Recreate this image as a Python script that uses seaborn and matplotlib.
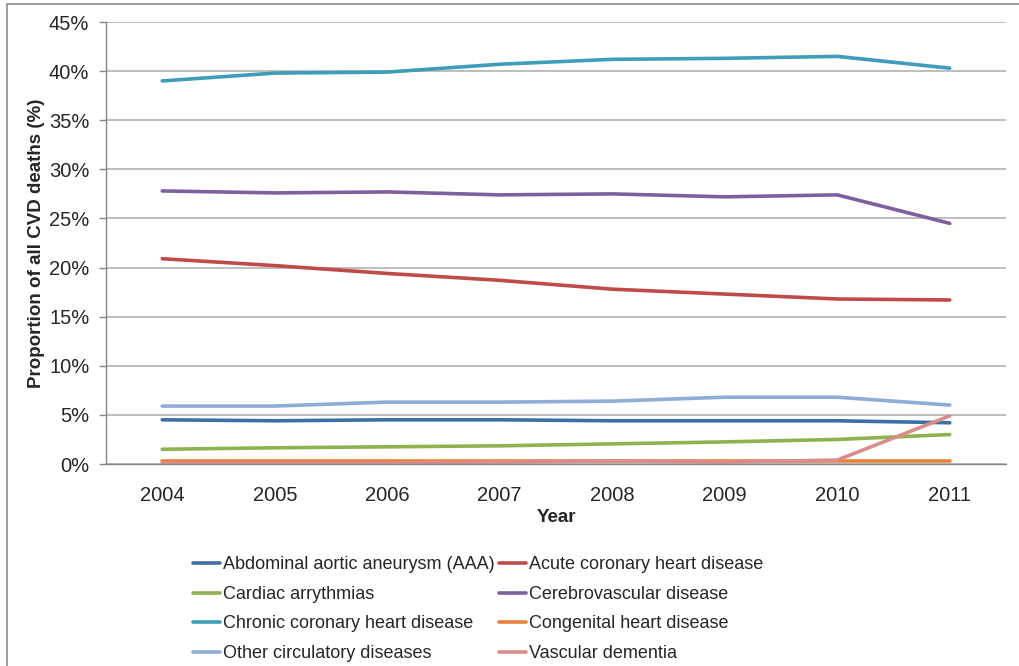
import matplotlib
matplotlib.use("Agg")
import matplotlib.pyplot as plt
import seaborn as sns
import pandas as pd
from matplotlib.patches import Rectangle
from matplotlib.ticker import FixedLocator
from matplotlib.lines import Line2D

years = ["2004", "2005", "2006", "2007", "2008", "2009", "2010", "2011"]
aaa = [4.5, 4.4, 4.5, 4.5, 4.4, 4.4, 4.4, 4.2]
acute = [20.9, 20.2, 19.4, 18.7, 17.8, 17.3, 16.8, 16.7]
cardiac = [1.5, 1.65, 1.75, 1.85, 2.05, 2.25, 2.5, 3.0]
cerebro = [27.8, 27.6, 27.7, 27.4, 27.5, 27.2, 27.4, 24.5]
chronic = [39.0, 39.8, 39.9, 40.7, 41.2, 41.3, 41.5, 40.3]
congenital = [0.3, 0.3, 0.3, 0.3, 0.3, 0.3, 0.3, 0.3]
other = [5.9, 5.9, 6.3, 6.3, 6.4, 6.8, 6.8, 6.0]
dementia = [0.1, 0.1, 0.1, 0.2, 0.3, 0.2, 0.4, 4.9]

series_names = [
    "Abdominal aortic aneurysm (AAA)",
    "Acute coronary heart disease",
    "Cardiac arrythmias",
    "Cerebrovascular disease",
    "Chronic coronary heart disease",
    "Congenital heart disease",
    "Other circulatory diseases",
    "Vascular dementia",
]
series_values = [aaa, acute, cardiac, cerebro, chronic, congenital, other, dementia]
colors = ["#3F6FA8", "#BE4B48", "#8DB24E", "#7D60A0", "#3E9DB8", "#E8823A", "#8FADD6", "#D98C8A"]

rows = []
for name, vals in zip(series_names, series_values):
    for i, v in enumerate(vals):
        rows.append({"pos": i, "value": v, "series": name})
df = pd.DataFrame(rows)

sns.set_theme(style="white")
plt.rcParams["font.family"] = ["Liberation Sans", "DejaVu Sans"]

fig = plt.figure(figsize=(10.19, 6.66), dpi=100)
ax = fig.add_axes([106 / 1019, 1 - 464 / 666, 900 / 1019, 442 / 666])

sns.lineplot(data=df, x="pos", y="value", hue="series", hue_order=series_names,
             palette=dict(zip(series_names, colors)), linewidth=2.6, ax=ax, legend=False)

ax.set_xlim(-0.5, 7.5)
ax.set_ylim(0, 45)
ax.set_yticks(range(0, 50, 5))
ax.set_yticklabels([f"{v}%" for v in range(0, 50, 5)], fontsize=14.5)
ax.set_xticks(range(len(years)))
ax.set_xticklabels(years, fontsize=14.5)
ax.xaxis.set_minor_locator(FixedLocator([i - 0.5 for i in range(len(years) + 1)]))
ax.tick_params(axis="x", which="major", length=0, pad=16)
ax.tick_params(axis="x", which="minor", length=5, color="#868686", width=1, direction="out")
ax.tick_params(axis="y", length=5, color="#868686", width=1, direction="out", pad=7, left=True)
ax.yaxis.grid(True, color="#B3B3B3", linewidth=1.2)
ax.set_axisbelow(True)
for s in ["top", "right"]:
    ax.spines[s].set_visible(False)
ax.spines["left"].set_color("#868686")
ax.spines["bottom"].set_color("#868686")
ax.spines["left"].set_linewidth(1)
ax.spines["bottom"].set_linewidth(1)

ax.set_xlabel("Year", fontsize=13.5, fontweight="bold", labelpad=3)
ax.set_ylabel("Proportion of all CVD deaths (%)", fontsize=13.5, fontweight="bold", labelpad=3)

handles = {n: Line2D([0], [0], color=c, linewidth=2.6) for n, c in zip(series_names, colors)}
order = [0, 2, 4, 6, 1, 3, 5, 7]
fig.legend([handles[series_names[i]] for i in order], [series_names[i] for i in order],
           loc="upper left", bbox_to_anchor=(186 / 1019, 1 - 549 / 666), ncol=2,
           frameon=False, fontsize=13, handlelength=1.5, handletextpad=0.15,
           labelspacing=0.7, columnspacing=0.25, borderaxespad=0)

fig.patches.append(Rectangle((7 / 1019, -0.05), 1.1, 1 - 4 / 666 + 0.05,
                             transform=fig.transFigure, fill=False,
                             edgecolor="#8C8C8C", linewidth=1.2))

fig.savefig("out.png", dpi=100)
